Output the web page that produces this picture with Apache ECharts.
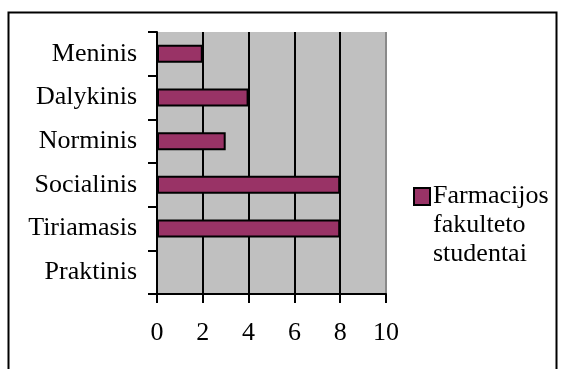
<!DOCTYPE html>
<html>
<head>
<meta charset="utf-8">
<script src="https://cdn.jsdelivr.net/npm/echarts@6/dist/echarts.min.js"></script>
<style>
html,body{margin:0;padding:0;background:#fff;}
#chart{width:561px;height:369px;}
</style>
</head>
<body>
<div id="chart"></div>
<script>
// Data
var categories = ['Meninis', 'Dalykinis', 'Norminis', 'Socialinis', 'Tiriamasis', 'Praktinis'];
var values = [2, 4, 3, 8, 8, 0];
var seriesName = 'Farmacijos fakulteto studentai';
var xTicks = [0, 2, 4, 6, 8, 10];

var FONT = "'Liberation Serif', 'Times New Roman', serif";
var chart = echarts.init(document.getElementById('chart'), null, {renderer: 'canvas'});
chart.setOption({
  backgroundColor: '#ffffff',
  animation: false,
  graphic: [{
    type: 'rect',
    shape: {x: 8.5, y: 12.5, width: 548, height: 420},
    style: {fill: 'none', stroke: '#000', lineWidth: 2},
    silent: true
  }],
  grid: {
    left: 157, top: 32, width: 229, height: 262,
    show: true, backgroundColor: '#c0c0c0', borderWidth: 0
  },
  legend: {
    left: 408, top: 119,
    itemWidth: 16, itemHeight: 17, itemGap: 0,
    icon: 'rect',
    data: [seriesName],
    formatter: function () { return '\n\nFarmacijos\nfakulteto\nstudentai'; },
    textStyle: {fontFamily: FONT, fontSize: 26, color: '#000', lineHeight: 29, padding: [0, 0, 0, -2]}
  },
  xAxis: {
    type: 'value', min: xTicks[0], max: xTicks[xTicks.length - 1], interval: 2,
    axisLine: {show: true, lineStyle: {color: '#000', width: 2}},
    axisTick: {show: true, length: 9, lineStyle: {color: '#000', width: 2}},
    axisLabel: {fontFamily: FONT, fontSize: 26, color: '#000', margin: 26},
    splitLine: {show: true, lineStyle: {color: ['#000', '#000', '#000', '#000', '#000', '#8a8a8a'], width: 2}}
  },
  yAxis: {
    type: 'category', data: categories, inverse: true,
    axisLine: {show: true, onZero: false, lineStyle: {color: '#000', width: 2}},
    axisTick: {show: true, length: 9, lineStyle: {color: '#000', width: 2}},
    axisLabel: {fontFamily: FONT, fontSize: 26, color: '#000', margin: 20},
    splitLine: {show: false}
  },
  series: [{
    name: seriesName,
    type: 'bar',
    data: values,
    barWidth: 18,
    itemStyle: {color: '#993366', borderColor: '#000', borderWidth: 2}
  }]
});
</script>
</body>
</html>
